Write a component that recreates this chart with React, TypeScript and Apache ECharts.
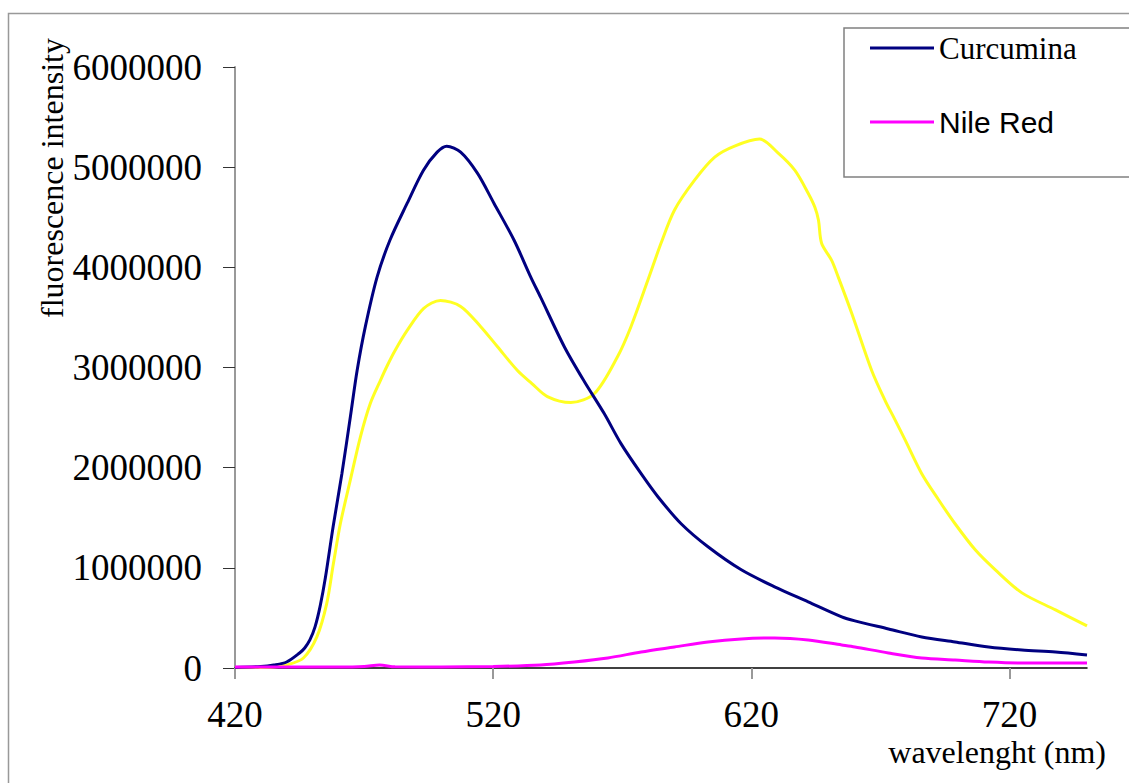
import React, { useEffect, useRef } from "react";
import * as echarts from "echarts";

// ---- Data ----
const curcuminaWl = [420, 430, 435, 440, 445, 447, 449, 451, 453, 455, 458, 461.4, 464.7, 467.3, 470.5, 475, 480, 486.7, 493, 498.3, 502, 507.4, 513.9, 520.3, 528.1, 534.6, 538.4, 547.5, 555.3, 563, 569.5, 577.3, 583.8, 592.8, 603.2, 616.1, 629, 642, 655, 660.1, 673.1, 686, 698.9, 711.9, 724.8, 737.8, 750];
const curcuminaVal = [5000, 15000, 30000, 60000, 150000, 200000, 280000, 410000, 620000, 900000, 1410000, 1940000, 2510000, 2970000, 3410000, 3900000, 4270000, 4640000, 4970000, 5150000, 5210000, 5150000, 4940000, 4640000, 4270000, 3900000, 3700000, 3210000, 2860000, 2540000, 2240000, 1940000, 1710000, 1440000, 1210000, 980000, 810000, 660000, 510000, 470000, 390000, 310000, 260000, 210000, 180000, 160000, 130000];

const mixWl = [420, 435, 440, 446.5, 451.7, 455.5, 458.1, 460.8, 464.7, 468.6, 472.4, 476.3, 479, 482, 486.7, 493.1, 499.6, 507.4, 515.1, 521.6, 529.4, 535, 541, 550.1, 559.2, 568.2, 573.4, 579.9, 585, 590.2, 598, 605.8, 613.5, 623.2, 630.4, 636.8, 642, 644.6, 646, 647.2, 651.1, 653.7, 658.9, 666.6, 671.8, 675.6, 679.5, 686, 692.5, 698.9, 706.7, 714.5, 724.8, 737.8, 750];
const mixVal = [3000, 10000, 30000, 100000, 310000, 640000, 1040000, 1440000, 1880000, 2310000, 2640000, 2870000, 3020000, 3170000, 3370000, 3590000, 3670000, 3610000, 3410000, 3210000, 2970000, 2840000, 2710000, 2650000, 2740000, 3110000, 3410000, 3870000, 4240000, 4570000, 4870000, 5100000, 5210000, 5280000, 5140000, 4970000, 4740000, 4600000, 4470000, 4240000, 4070000, 3900000, 3540000, 2970000, 2670000, 2480000, 2280000, 1940000, 1680000, 1440000, 1180000, 980000, 750000, 580000, 420000];

const nileRedWl = [420, 440, 460, 470, 476, 482, 500, 520, 538.4, 551.4, 564.4, 577.3, 590.2, 603.2, 616.1, 629, 642, 655, 660.1, 673.1, 686, 698.9, 711.9, 724.8, 750];
const nileRedVal = [10000, 10000, 10000, 15000, 30000, 12000, 10000, 15000, 30000, 60000, 100000, 160000, 210000, 260000, 290000, 300000, 280000, 230000, 210000, 150000, 100000, 80000, 60000, 50000, 50000];

const xTicks = [420, 520, 620, 720];
const yAxisTitle = "fluorescence intensity";
const xAxisTitle = "wavelenght (nm)";

const zip = (xs: number[], ys: number[]) => xs.map((x, i) => [x, ys[i]]);

export default function App() {
  const ref = useRef<HTMLDivElement>(null);
  useEffect(() => {
    if (!ref.current) return;
    const chart = echarts.init(ref.current, null, { renderer: "svg" });
    const serif = "Liberation Serif";
    chart.setOption({
      animation: false,
      backgroundColor: "#ffffff",
      grid: { left: 235, right: 42, top: 67, bottom: 115, containLabel: false },
      legend: {
        orient: "vertical",
        left: 865,
        top: 27,
        itemWidth: 64,
        itemHeight: 3,
        itemGap: 42,
        icon: "rect",
        textStyle: { color: "#000", lineHeight: 32 },
        data: [
          { name: "Curcumina", textStyle: { fontFamily: serif, fontSize: 31, color: "#000" } },
          { name: "Nile Red", textStyle: { fontFamily: "Liberation Sans", fontSize: 30, color: "#000" } },
        ],
      },
      xAxis: {
        type: "value",
        min: 420,
        max: 750,
        interval: 100,
        splitLine: { show: false },
        axisLine: { show: true, onZero: false, lineStyle: { color: "#000", width: 1.5 } },
        axisTick: { show: true, length: 11, customValues: xTicks, lineStyle: { color: "#999", width: 2 } },
        axisLabel: {
          customValues: xTicks,
          margin: 28,
          fontFamily: serif,
          fontSize: 37,
          color: "#000",
        },
      },
      yAxis: {
        type: "value",
        min: 0,
        max: 6000000,
        interval: 1000000,
        splitLine: { show: false },
        axisLine: { show: true, lineStyle: { color: "#999", width: 2 } },
        axisTick: { show: true, length: 12, lineStyle: { color: "#333", width: 1 } },
        axisLabel: {
          margin: 33,
          fontFamily: serif,
          fontSize: 37,
          color: "#000",
          formatter: (v: number) => String(v),
        },
      },
      graphic: [
        {
          type: "rect",
          shape: { x: 8.5, y: 13.5, width: 1300, height: 900 },
          style: { fill: "none", stroke: "#999", lineWidth: 1.5 },
          silent: true,
          z: -1,
        },
        {
          type: "rect",
          shape: { x: 844, y: 28, width: 400, height: 149 },
          style: { fill: "none", stroke: "#808080", lineWidth: 1.5 },
          silent: true,
        },
        {
          type: "text",
          x: 52,
          y: 178,
          rotation: Math.PI / 2,
          style: {
            text: yAxisTitle,
            fontFamily: serif,
            fontSize: 32,
            fill: "#000",
            align: "center",
            verticalAlign: "middle",
          },
        },
        {
          type: "text",
          x: 1106,
          y: 752,
          style: {
            text: xAxisTitle,
            fontFamily: serif,
            fontSize: 32,
            fill: "#000",
            align: "right",
            verticalAlign: "middle",
          },
        },
      ],
      series: [
        {
          name: "Curcumina",
          type: "line",
          data: zip(curcuminaWl, curcuminaVal),
          showSymbol: false,
          symbol: "none",
          smooth: 0.3,
          lineStyle: { color: "#000080", width: 3 },
          itemStyle: { color: "#000080" },
          z: 3,
        },
        {
          name: "Curcumina + Nile Red",
          type: "line",
          data: zip(mixWl, mixVal),
          showSymbol: false,
          symbol: "none",
          smooth: 0.3,
          lineStyle: { color: "#FFFF22", width: 3 },
          itemStyle: { color: "#FFFF22" },
          z: 2,
        },
        {
          name: "Nile Red",
          type: "line",
          data: zip(nileRedWl, nileRedVal),
          showSymbol: false,
          symbol: "none",
          smooth: 0.3,
          lineStyle: { color: "#FF00FF", width: 3 },
          itemStyle: { color: "#FF00FF" },
          z: 4,
        },
      ],
    });
    return () => chart.dispose();
  }, []);
  return (
    <div
      ref={ref}
      style={{ position: "fixed", left: 0, top: 0, width: 1129, height: 783 }}
    />
  );
}
